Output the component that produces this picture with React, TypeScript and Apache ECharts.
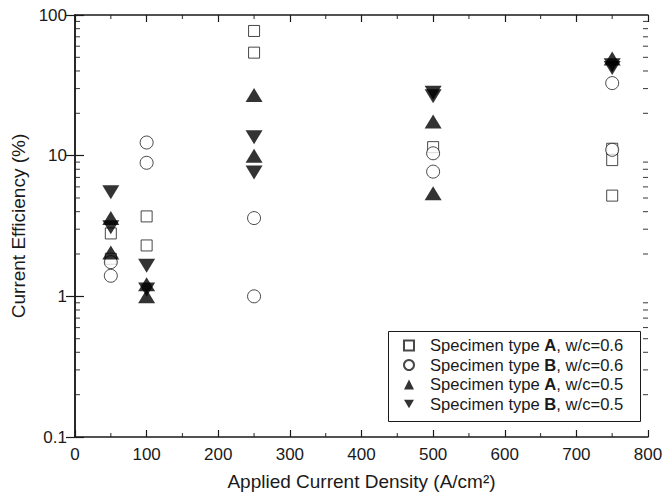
import React, { useEffect, useRef } from "react";
import * as echarts from "echarts";

// Data: [applied current density (A/cm²), current efficiency (%)]
const squaresA06: [number, number][] = [
  [50, 2.8], [50, 1.85], [100, 3.7], [100, 2.3], [250, 77], [250, 54],
  [500, 11.5], [750, 11.2], [750, 9.3], [750, 5.2],
];
const circlesB06: [number, number][] = [
  [50, 1.75], [50, 1.4], [100, 12.4], [100, 8.9], [250, 3.6], [250, 1.0],
  [500, 10.4], [500, 7.7], [750, 32.8], [750, 11.0],
];
const upA05: [number, number][] = [
  [50, 3.6], [50, 2.05], [100, 1.22], [100, 1.0], [250, 27], [250, 10],
  [500, 17.5], [500, 5.4], [750, 49],
];
const downB05: [number, number][] = [
  [50, 5.5], [50, 3.1], [100, 1.65], [100, 1.12], [250, 13.5], [250, 7.6],
  [500, 28], [500, 26.5], [750, 44], [750, 42],
];

const seriesNames = ["A|0.6", "B|0.6", "A|0.5", "B|0.5"];
const xTicks = { min: 0, max: 800, interval: 100 };
const xMinorTicks = [50, 150, 250, 350, 450, 550, 650, 750];
const yRange = { min: 0.1, max: 100 };
const yDecades = [0.1, 1, 10];
const yMinorMultipliers = [2, 3, 4, 5, 6, 7, 8, 9];
const yMinorTicks: number[] = [];
yDecades.forEach((d) => yMinorMultipliers.forEach((k) => yMinorTicks.push(+(d * k).toPrecision(3))));

const DOWN_TRI = "path://M0,0 L10,0 L5,8.5 Z";
const FONT = "Liberation Sans, Arial, Helvetica, sans-serif";
const INK = "#1a1a1a";

export default function App() {
  const ref = useRef<HTMLDivElement>(null);
  useEffect(() => {
    if (!ref.current) return;
    const chart = echarts.init(ref.current, undefined, { renderer: "svg" });
    const left = 75, right = 15, top = 15, bottom = 67;
    const axisLine = { show: true, lineStyle: { color: INK, width: 1.5 } };
    const baseX = {
      type: "value" as const,
      min: xTicks.min,
      max: xTicks.max,
      interval: xTicks.interval,
      axisLine,
      axisTick: { show: true, inside: true, length: 7, lineStyle: { color: INK, width: 1.2 } },
      splitLine: { show: false },
    };
    const baseY = {
      type: "log" as const,
      logBase: 10,
      min: yRange.min,
      max: yRange.max,
      axisLine,
      axisTick: { show: true, inside: true, length: 9, lineStyle: { color: INK, width: 1.2 } },
      splitLine: { show: false },
    };
    const whiteSym = { color: "#fff", borderColor: INK, borderWidth: 1 };
    const blackSym = { color: "#000", borderColor: "#000", borderWidth: 0 };
    const LF = 16.6;
    const legendRich = {
      n: { fontSize: LF, lineHeight: 16, fontFamily: FONT, color: INK },
      b: { fontSize: LF, lineHeight: 16, fontFamily: FONT, color: INK, fontWeight: "bold" as const },
      p: { width: 11, lineHeight: 16 },
    };
    const yTickMark = (x: number, off: number) => ({
      type: "scatter",
      silent: true,
      clip: false,
      data: yMinorTicks.map((v) => [x, v]),
      symbol: "rect",
      symbolSize: [5, 1.1],
      symbolOffset: [off, 0],
      itemStyle: { color: INK },
      z: 1,
    });
    const xTickMark = (y: number, off: number) => ({
      type: "scatter",
      silent: true,
      clip: false,
      data: xMinorTicks.map((v) => [v, y]),
      symbol: "rect",
      symbolSize: [1.2, 4],
      symbolOffset: [0, off],
      itemStyle: { color: INK },
      z: 1,
    });
    chart.setOption({
      animation: false,
      backgroundColor: "#fff",
      grid: { left, right, top, bottom, containLabel: false, outerBoundsMode: "none" },
      xAxis: [
        {
          ...baseX,
          position: "bottom",
          name: "Applied Current Density (A/cm²)",
          nameLocation: "middle",
          nameGap: 35,
          nameTextStyle: { fontSize: 19, fontFamily: FONT, color: INK },
          axisLabel: { fontSize: 17, fontFamily: FONT, color: INK, margin: 9 },
        },
        { ...baseX, position: "top", axisLabel: { show: false } },
      ],
      yAxis: [
        {
          ...baseY,
          position: "left",
          name: "Current Efficiency (%)",
          nameLocation: "middle",
          nameGap: 46,
          nameTextStyle: { fontSize: 19, fontFamily: FONT, color: INK },
          axisLabel: { fontSize: 17, fontFamily: FONT, color: INK, margin: 8 },
        },
        { ...baseY, position: "right", axisLabel: { show: false } },
      ],
      legend: {
        show: true,
        orient: "vertical",
        left: 403,
        top: 337,
        itemWidth: 10,
        itemHeight: 10,
        itemGap: 2.5,
        padding: 0,
        selectedMode: false,
        data: seriesNames,
        formatter: (name: string) => {
          const [t, w] = name.split("|");
          return `{p| }{n|Specimen type }{b|${t}}{n|, w/c=${w}}`;
        },
        textStyle: { rich: legendRich, fontSize: LF, lineHeight: 16, fontFamily: FONT, color: INK },
      },
      graphic: [
        {
          type: "rect",
          left: 386,
          top: 329,
          shape: { width: 252, height: 90 },
          style: { fill: "none", stroke: INK, lineWidth: 1 },
          z: 100,
          silent: true,
        },
      ],
      series: [
        {
          name: seriesNames[0],
          type: "scatter",
          data: squaresA06,
          symbol: "rect",
          symbolSize: 11,
          itemStyle: whiteSym,
          z: 2,
        },
        {
          name: seriesNames[1],
          type: "scatter",
          data: circlesB06,
          symbol: "circle",
          symbolSize: 13,
          itemStyle: whiteSym,
          z: 3,
        },
        {
          name: seriesNames[2],
          type: "scatter",
          data: upA05,
          symbol: "triangle",
          symbolSize: [17, 14],
          itemStyle: blackSym,
          z: 4,
        },
        {
          name: seriesNames[3],
          type: "scatter",
          data: downB05,
          symbol: DOWN_TRI,
          symbolSize: [17, 14],
          itemStyle: blackSym,
          z: 5,
        },
        yTickMark(xTicks.min, 2.5),
        yTickMark(xTicks.max, -2.5),
        xTickMark(yRange.min, -2),
        xTickMark(yRange.max, 2),
      ],
    });
    return () => chart.dispose();
  }, []);
  return (
    <div
      ref={ref}
      style={{ position: "fixed", left: 0, top: 0, width: 663, height: 504 }}
    />
  );
}
